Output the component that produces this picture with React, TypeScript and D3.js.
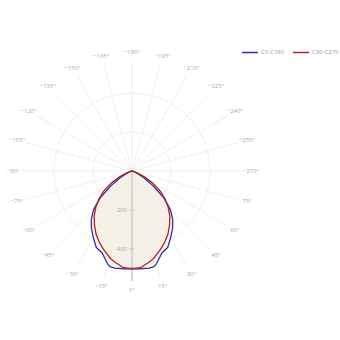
import React from "react";
import * as d3 from "d3";

const halfAngles = [0, 5, 10, 13, 15, 20, 25, 30, 35, 40, 45, 50, 55, 60, 65, 70, 75, 80, 85, 90];
const c0c180 = [500, 503, 506, 503, 490, 447, 433, 396, 362, 325, 278, 212, 132, 72, 38, 16, 5, 0, 0, 0];
const c90c270 = [502, 498, 478, 466, 455, 428, 400, 370, 336, 302, 262, 220, 174, 122, 68, 28, 8, 0, 0, 0];
const seriesNames = ["C0-C180", "C90-C270"];
const seriesColors = ["#2f2fb0", "#b22222"];
const angleTickValues = d3.range(0, 360, 15);
const angleTickLabels = angleTickValues.map((a) => (a <= 75 ? `${a}°` : `−${360 - a}°`));
const radialTicks = [200, 400];
const radialMax = 564;

const W = 340;
const H = 340;
const cx = 132;
const cy = 171;
const R = 110;
const font = "'Open Sans', sans-serif";

function fullSeries(vals: number[]) {
  const pts: { a: number; r: number }[] = [];
  for (let i = halfAngles.length - 1; i > 0; i--) pts.push({ a: -halfAngles[i], r: vals[i] });
  for (let i = 0; i < halfAngles.length; i++) pts.push({ a: halfAngles[i], r: vals[i] });
  return pts;
}

export default function App() {
  const rScale = d3.scaleLinear().domain([0, radialMax]).range([0, R]);
  const toRad = (deg: number) => (deg * Math.PI) / 180;
  const line = d3
    .lineRadial<{ a: number; r: number }>()
    .angle((d) => Math.PI - toRad(d.a))
    .radius((d) => rScale(d.r))
    .curve(d3.curveLinearClosed);

  const series = [c0c180, c90c270];
  const labelR = 119;

  return (
    <svg width={W} height={H} style={{ position: "absolute", left: 0, top: 0, background: "#fff" }}>
      <g transform={`translate(${cx},${cy})`}>
        {radialTicks.map((t) => (
          <circle key={t} r={rScale(t)} fill="none" stroke="#f0f0f0" strokeWidth={1} />
        ))}
        {angleTickValues.map((a) => (
          <line
            key={a}
            x1={0}
            y1={0}
            x2={R * Math.sin(toRad(a))}
            y2={R * Math.cos(toRad(a))}
            stroke="#f0f0f0"
            strokeWidth={1}
          />
        ))}
        {series.map((s, i) => (
          <path key={"f" + i} d={line(fullSeries(s)) || ""} fill="#f3eee2" fillOpacity={0.6} stroke="none" />
        ))}
        <line x1={0} y1={0} x2={0} y2={R} stroke="#c4c4c4" strokeWidth={1.2} />
        {radialTicks.map((t) => (
          <g key={"t" + t}>
            <line x1={-3} x2={2} y1={rScale(t)} y2={rScale(t)} stroke="#c4c4c4" strokeWidth={1} />
            <text
              x={-5}
              y={rScale(t)}
              textAnchor="end"
              dominantBaseline="middle"
              fontSize={6}
              fill="#aaa"
              fontFamily={font}
            >
              {t}
            </text>
          </g>
        ))}
        {series.map((s, i) => (
          <path
            key={"s" + i}
            d={line(fullSeries(s)) || ""}
            fill="none"
            stroke={seriesColors[i]}
            strokeWidth={1.3}
            strokeLinejoin="round"
          />
        ))}
        {angleTickValues.map((a, i) => (
          <text
            key={"l" + a}
            x={labelR * Math.sin(toRad(a))}
            y={labelR * Math.cos(toRad(a))}
            textAnchor="middle"
            dominantBaseline="middle"
            fontSize={6}
            fill="#aaa"
            fontFamily={font}
          >
            {angleTickLabels[i]}
          </text>
        ))}
      </g>
      {seriesNames.map((n, i) => {
        const x0 = i === 0 ? 242 : 293;
        return (
          <g key={n}>
            <line x1={x0} x2={x0 + 16} y1={52.5} y2={52.5} stroke={seriesColors[i]} strokeWidth={1.5} />
            <text x={x0 + 19} y={52.5} dominantBaseline="middle" fontSize={6} fill="#999" fontFamily={font}>
              {n}
            </text>
          </g>
        );
      })}
    </svg>
  );
}
